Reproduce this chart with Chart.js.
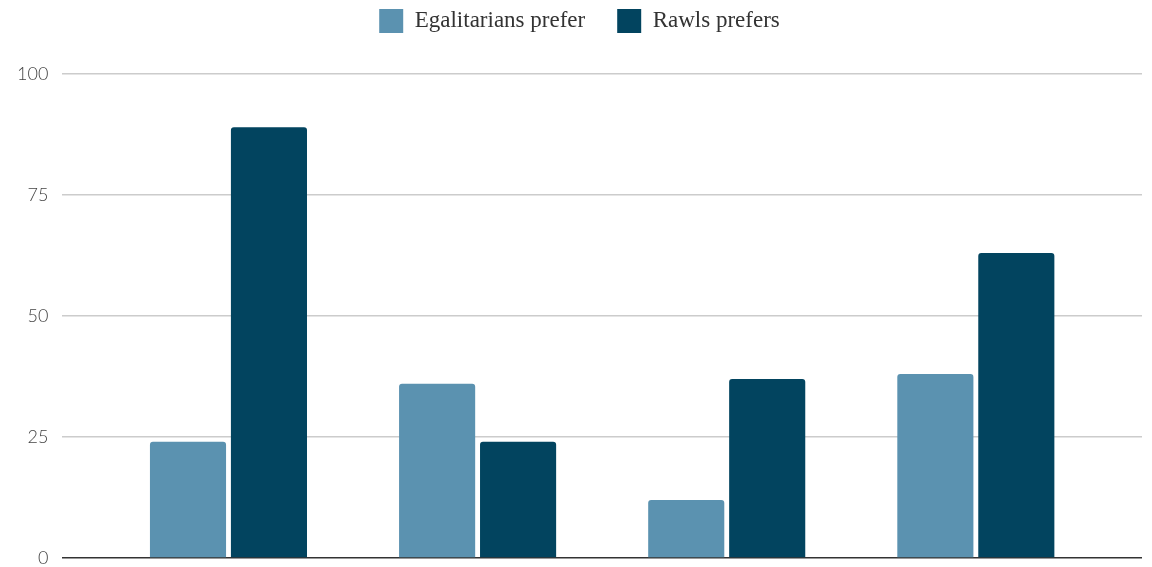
<!DOCTYPE html>
<html>
<head>
<meta charset="utf-8">
<script src="https://cdn.jsdelivr.net/npm/chart.js@4/dist/chart.umd.min.js"></script>
<style>
  html, body { margin: 0; padding: 0; background: #fff; }
  #wrap { width: 1152px; height: 567px; }
</style>
</head>
<body>
<div id="wrap"><canvas id="chart"></canvas></div>
<script>
// data
const categories = ['A', 'B', 'C', 'D'];
const egalitarians = [24, 36, 12, 38];
const rawls = [89, 24, 37, 63];
const yTicks = [0, 25, 50, 75, 100];

const toPoints = vals => vals.map((v, i) => ({ x: i, y: v }));

// a bit more room under the legend
const legendSpace = {
  id: 'legendSpace',
  beforeInit(chart) {
    const fit = chart.legend.fit;
    chart.legend.fit = function () {
      fit.bind(chart.legend)();
      this.height += 31;
    };
  }
};

const ctx = document.getElementById('chart').getContext('2d');
new Chart(ctx, {
  type: 'bar',
  data: {
    labels: categories,
    datasets: [
      {
        label: 'Egalitarians prefer',
        data: toPoints(egalitarians),
        backgroundColor: '#5b92b0',
        borderRadius: 3,
        barPercentage: 0.94,
        categoryPercentage: 0.65
      },
      {
        label: 'Rawls prefers',
        data: toPoints(rawls),
        backgroundColor: '#02445f',
        borderRadius: 3,
        barPercentage: 0.94,
        categoryPercentage: 0.65
      }
    ]
  },
  plugins: [legendSpace],
  options: {
    responsive: true,
    maintainAspectRatio: false,
    animation: false,
    layout: { padding: { left: 17, right: 10, top: -23, bottom: 0 } },
    plugins: {
      tooltip: { enabled: false },
      legend: {
        position: 'top',
        labels: {
          boxWidth: 24,
          boxHeight: 24,
          padding: 32,
          color: '#333',
          font: { family: '"Liberation Serif", serif', size: 23 }
        }
      }
    },
    scales: {
      x: {
        type: 'linear',
        offset: false,
        display: false,
        min: -0.667,
        max: categories.length - 1 + 0.667,
        afterBuildTicks: axis => {
          axis.ticks = categories.map((c, i) => ({ value: i }));
        }
      },
      y: {
        min: 0,
        max: 100,
        afterBuildTicks: axis => {
          axis.ticks = yTicks.map(v => ({ value: v }));
        },
        ticks: {
          color: '#444',
          padding: 0,
          font: { family: 'Lato', weight: 300, size: 18, lineHeight: 1 }
        },
        grid: {
          color: c => (c.tick && c.tick.value === 0 ? '#333' : '#cccccc'),
          lineWidth: 1.5,
          drawTicks: true,
          tickLength: 14,
          tickColor: 'rgba(0,0,0,0)'
        },
        border: { display: false }
      }
    }
  }
});
</script>
</body>
</html>
